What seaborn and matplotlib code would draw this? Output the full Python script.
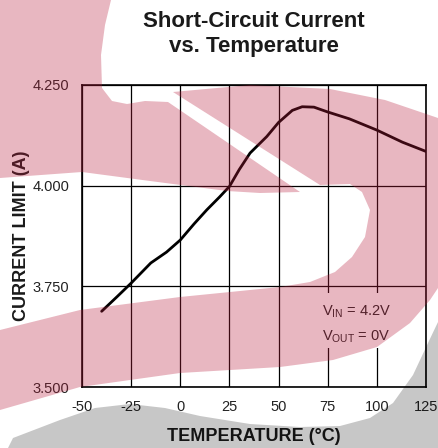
import numpy as np
import pandas as pd
import matplotlib
matplotlib.use("Agg")
import matplotlib.pyplot as plt
import seaborn as sns
from matplotlib.path import Path
from matplotlib.patches import PathPatch, Rectangle

# data
temps = [-40, -32, -25, -15, -7, 0, 7, 13.5, 20, 25, 30, 35.5, 44, 50, 57, 62, 68, 75, 86, 100, 113, 125]
current = [3.688, 3.725, 3.758, 3.808, 3.835, 3.865, 3.905, 3.94, 3.972, 3.998, 4.04, 4.081,
           4.122, 4.157, 4.187, 4.196, 4.195, 4.183, 4.166, 4.138, 4.108, 4.085]
xticks = [-50, -25, 0, 25, 50, 75, 100, 125]
xtick_labels = ["-50", "-25", "0", "25", "50", "75", "100", "125"]
yticks = [3.5, 3.75, 4.0, 4.25]
ytick_labels = ["3.500", "3.750", "4.000", "4.250"]

# watermark outline, in image pixels (x right, y down)
pink_left = [(0, 0), (111, 0), (105, 25), (101, 55), (102, 88), (112, 101), (127, 104), (145, 101),
             (168, 102), (300, 192), (260, 193), (227, 191), (150, 181), (82, 172), (0, 178)]
pink_right = [(173, 92), (250, 85), (330, 89), (385, 100), (438, 118), (438, 288), (430, 300),
              (410, 323), (377, 347), (333, 360), (280, 367), (180, 373), (80, 387), (0, 410),
              (0, 330), (80, 310), (180, 297), (280, 287), (310, 282), (335, 272),
              (352, 257), (365, 237), (370, 210), (362, 192), (350, 184), (320, 185)]
grey_shape = [(8, 448), (13, 438), (60, 420), (95, 408), (130, 404), (165, 408), (200, 416),
              (250, 424), (300, 427), (340, 426), (370, 418), (393, 403), (413, 375),
              (428, 343), (438, 322), (438, 448)]

sns.set_style("white")
plt.rcParams['font.family'] = ['Liberation Sans', 'DejaVu Sans']
plt.rcParams['mathtext.fontset'] = 'custom'
plt.rcParams['mathtext.rm'] = 'Liberation Sans'
plt.rcParams['mathtext.it'] = 'Liberation Sans:italic'
plt.rcParams['mathtext.bf'] = 'Liberation Sans:bold'

fig = plt.figure(figsize=(4.38, 4.48), dpi=100)
ax = fig.add_axes([82/438, 1-387/448, 344/438, 302/448])

df = pd.DataFrame({"temp": temps, "current": current})
sns.lineplot(data=df, x="temp", y="current", ax=ax, color="black", lw=2.0, zorder=3)

ax.set_xlim(-50, 125)
ax.set_ylim(3.5, 4.25)
ax.set_xticks(xticks)
ax.set_xticklabels(xtick_labels)
ax.set_yticks(yticks)
ax.set_yticklabels(ytick_labels)
ax.grid(True, color="black", lw=0.9)
for s in ax.spines.values():
    s.set_visible(True)
    s.set_color("black")
    s.set_linewidth(1.2)
ax.tick_params(axis="both", length=0, labelsize=10.5, colors="#222222")
ax.tick_params(axis="x", pad=9)
ax.tick_params(axis="y", pad=9)

ax.set_xlabel("TEMPERATURE (°C)", fontsize=13, fontweight="bold", color="#1a1a1a")
ax.set_ylabel("CURRENT LIMIT (A)", fontsize=13, fontweight="bold", color="#1a1a1a")
ax.xaxis.set_label_coords(0.5, -0.135)
ax.yaxis.set_label_coords(-0.15, 0.5)
ax.set_title("Short-Circuit Current\nvs. Temperature", fontsize=16, fontweight="bold",
             color="#1a1a1a", pad=24, linespacing=1.25)

# white box behind the conditions text
ax.add_patch(Rectangle((0.68, 0.129), 0.239, 0.182, transform=ax.transAxes,
                       facecolor="white", edgecolor="none", zorder=2.5))
ax.text(0.698, 0.248, r"V$_{\mathrm{IN}}$ = 4.2V", transform=ax.transAxes,
        va="center", fontsize=10.5, color="#222222", zorder=4)
ax.text(0.698, 0.166, r"V$_{\mathrm{OUT}}$ = 0V", transform=ax.transAxes,
        va="center", fontsize=10.5, color="#222222", zorder=4)

# translucent watermark over the whole picture
ov = fig.add_axes([0, 0, 1, 1], zorder=10)
ov.set_xlim(0, 438)
ov.set_ylim(448, 0)
ov.axis("off")
ov.patch.set_alpha(0)


def closed(pts):
    v = np.array(pts + pts[:1], dtype=float)
    return Path(v, closed=True)


pink_path = Path.make_compound_path(closed(pink_left), closed(pink_right))
ov.add_patch(PathPatch(pink_path, facecolor="#b91f3e", edgecolor="none", alpha=0.32))
ov.add_patch(PathPatch(closed(grey_shape), facecolor="black", edgecolor="none", alpha=0.22))

fig.savefig("out.png", dpi=100)
